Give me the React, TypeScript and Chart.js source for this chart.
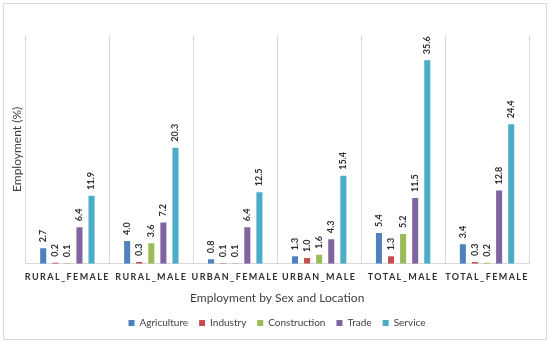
import React, { useEffect, useRef } from "react";
import { Chart, registerables } from "chart.js";

Chart.register(...registerables);

const categories = ["RURAL_FEMALE", "RURAL_MALE", "URBAN_FEMALE", "URBAN_MALE", "TOTAL_MALE", "TOTAL_FEMALE"];
const agriculture = [2.7, 4.0, 0.8, 1.3, 5.4, 3.4];
const industry = [0.2, 0.3, 0.1, 1.0, 1.3, 0.3];
const construction = [0.1, 3.6, 0.1, 1.6, 5.2, 0.2];
const trade = [6.4, 7.2, 6.4, 4.3, 11.5, 12.8];
const service = [11.9, 20.3, 12.5, 15.4, 35.6, 24.4];

const FONT = "Lato, 'Liberation Sans', sans-serif";
const TEXT = "#404040";

const borderPlugin = {
  id: "outerBorder",
  afterLayout(chart: any) {
    const lg = chart.legend;
    if (lg) {
      lg.left = 0;
      lg.right = chart.width + 4;
      lg.width = lg.right - lg.left;
    }
  },
  beforeDraw(chart: any) {
    const ctx = chart.ctx;
    ctx.save();
    ctx.fillStyle = "#ffffff";
    ctx.fillRect(0, 0, chart.width, chart.height);
    ctx.strokeStyle = "#D9D9D9";
    ctx.lineWidth = 1;
    ctx.strokeRect(3.5, 3.5, chart.width - 7, chart.height - 7);
    ctx.restore();
    const s: any = chart.scales.x;
    if (s && !s._spaced) {
      const orig = s.drawLabels.bind(s);
      s.drawLabels = (ca: any) => {
        const c = chart.ctx;
        c.save();
        c.letterSpacing = "1.4px";
        orig(ca);
        c.restore();
      };
      s._spaced = true;
    }
  },
};

const labelPlugin = {
  id: "valueLabels",
  afterDatasetsDraw(chart: any) {
    const ctx = chart.ctx;
    ctx.save();
    ctx.font = `bold 9px ${FONT}`;
    ctx.fillStyle = "#303030";
    ctx.textAlign = "left";
    ctx.textBaseline = "middle";
    chart.data.datasets.forEach((ds: any, i: number) => {
      const meta = chart.getDatasetMeta(i);
      meta.data.forEach((bar: any, j: number) => {
        const v = ds.data[j];
        ctx.save();
        ctx.translate(bar.x, bar.y - 6);
        ctx.rotate(-Math.PI / 2);
        ctx.fillText(v.toFixed(1), 0, 0);
        ctx.restore();
      });
    });
    ctx.restore();
  },
};

export default function App() {
  const ref = useRef<HTMLCanvasElement>(null);
  useEffect(() => {
    const mk = (label: string, data: number[], color: string) => ({
      label,
      data,
      backgroundColor: color,
      borderWidth: 0,
      barPercentage: 0.5,
      categoryPercentage: 0.72,
    });
    const chart = new Chart(ref.current!, {
      type: "bar",
      data: {
        labels: categories,
        datasets: [
          mk("Agriculture", agriculture, "#4F81BD"),
          mk("Industry", industry, "#C0504D"),
          mk("Construction", construction, "#9BBB59"),
          mk("Trade", trade, "#8064A2"),
          mk("Service", service, "#4BACC6"),
        ],
      },
      options: {
        animation: false,
        responsive: false,
        devicePixelRatio: 1,
        layout: { padding: { left: 2, right: 21, top: 35, bottom: 5 } },
        scales: {
          x: {
            grid: { display: true, color: "#D9D9D9", drawTicks: false, offset: true },
            border: { display: true, color: "#D9D9D9" },
            ticks: { font: { family: FONT, size: 9, weight: "bold" }, color: "#303030", padding: 8, maxRotation: 0, autoSkip: false },
            title: {
              display: true,
              text: "Employment by Sex and Location",
              font: { family: FONT, size: 12 },
              color: TEXT,
              padding: { top: 0, bottom: 2 },
            },
          },
          y: {
            min: 0,
            max: 40,
            grid: { display: false, drawTicks: false },
            border: { display: false },
            ticks: { display: false },
            title: {
              display: true,
              text: "Employment (%)",
              font: { family: FONT, size: 12 },
              color: TEXT,
              padding: { top: 8, bottom: 1 },
            },
          },
        },
        plugins: {
          legend: {
            position: "bottom",
            labels: { boxWidth: 6, boxHeight: 6, font: { family: FONT, size: 10 }, color: TEXT, padding: 11 },
          },
          tooltip: { enabled: false },
        },
      },
      plugins: [borderPlugin, labelPlugin],
    } as any);
    return () => chart.destroy();
  }, []);
  return (
    <div style={{ position: "fixed", left: 0, top: 0, width: 550, height: 343 }}>
      <canvas ref={ref} width={550} height={343} style={{ width: 550, height: 343 }} />
    </div>
  );
}
